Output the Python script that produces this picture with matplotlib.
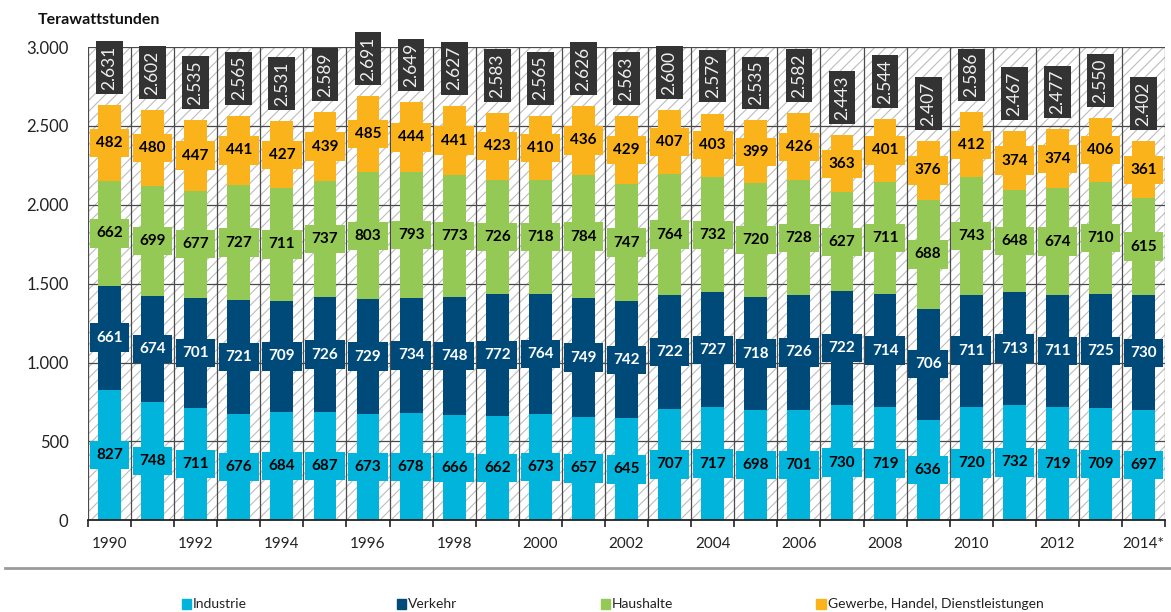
import matplotlib
matplotlib.use('Agg')
from matplotlib import pyplot as plt
from matplotlib.patches import Rectangle
from matplotlib.lines import Line2D
import numpy as np

plt.rcParams['font.family'] = ['Lato', 'DejaVu Sans']
plt.rcParams['hatch.linewidth'] = 0.8

# Endenergieverbrauch nach Sektoren, TWh
years = list(range(1990, 2015))
industrie = [827, 748, 711, 676, 684, 687, 673, 678, 666, 662, 673, 657, 645,
             707, 717, 698, 701, 730, 719, 636, 720, 732, 719, 709, 697]
verkehr = [661, 674, 701, 721, 709, 726, 729, 734, 748, 772, 764, 749, 742,
           722, 727, 718, 726, 722, 714, 706, 711, 713, 711, 725, 730]
haushalte = [662, 699, 677, 727, 711, 737, 803, 793, 773, 726, 718, 784, 747,
             764, 732, 720, 728, 627, 711, 688, 743, 648, 674, 710, 615]
gewerbe = [482, 480, 447, 441, 427, 439, 485, 444, 441, 423, 410, 436, 429,
           407, 403, 399, 426, 363, 401, 376, 412, 374, 374, 406, 361]
totals = [2631, 2602, 2535, 2565, 2531, 2589, 2691, 2649, 2627, 2583, 2565,
          2626, 2563, 2600, 2579, 2535, 2582, 2443, 2544, 2407, 2586, 2467,
          2477, 2550, 2402]

series = [('Industrie', industrie, '#00b4dc', 'black'),
          ('Verkehr', verkehr, '#004a7a', 'white'),
          ('Haushalte', haushalte, '#94c955', 'black'),
          ('Gewerbe, Handel, Dienstleistungen', gewerbe, '#fab31a', 'black')]


def de(v):
    # German thousands separator
    return f'{v:,.0f}'.replace(',', '.')


fig = plt.figure(figsize=(11.71, 6.12), dpi=100)
ax = fig.add_axes([0.0751, 0.150, 0.9199, 0.773])

x = np.arange(len(years))
ymax = 3000

# hatched background per year
ax.bar(x, ymax, width=1.0, color='white', edgecolor='#bcbcbc', hatch='///',
       linewidth=0, zorder=1)
for y in range(500, ymax + 1, 500):
    ax.axhline(y, color='#4a4a4a', lw=0.9, zorder=2)
for b in np.arange(-0.5, len(years), 1.0):
    ax.plot([b, b], [0, ymax], color='#4a4a4a', lw=0.9, zorder=2)

bottom = np.zeros(len(years))
for name, vals, col, tcol in series:
    vals = np.array(vals)
    ax.bar(x, vals, bottom=bottom, width=0.53, color=col, linewidth=0, zorder=3)
    mid = bottom + vals / 2
    # wider label box inside each segment
    ax.bar(x, 180, bottom=mid - 90, width=0.92, color=col, linewidth=0, zorder=4)
    for xi, m, v in zip(x, mid, vals):
        ax.text(xi, m, str(v), ha='center', va='center', fontsize=11,
                fontweight='bold', color=tcol, zorder=5)
    bottom = bottom + vals

# total boxes above the stacks
gap, boxh = 70, 335
ax.bar(x, boxh, bottom=bottom + gap, width=0.62, color='#333333', linewidth=0,
       zorder=4, clip_on=False)
for xi, b, t in zip(x, bottom, totals):
    ax.text(xi, b + gap + boxh / 2, de(t), rotation=90, ha='center', va='center',
            fontsize=12.5, color='#eeeeee', zorder=5, clip_on=False)

ax.set_xlim(-0.5, len(years) - 0.5)
ax.set_ylim(0, ymax)
for s in ['top', 'right', 'left']:
    ax.spines[s].set_visible(False)
ax.spines['bottom'].set_color('#222222')
ax.spines['bottom'].set_linewidth(1.3)
ax.spines['bottom'].set_zorder(6)

ax.set_yticks(range(0, ymax + 1, 500))
ax.set_yticklabels([de(v) for v in range(0, ymax + 1, 500)], fontsize=12,
                   color='#222222')
ax.tick_params(axis='y', length=0, pad=14)

xlabels = [str(y) if (y - 1990) % 2 == 0 else '' for y in years]
xlabels[-1] = '2014*'
ax.set_xticks(x)
ax.set_xticklabels(xlabels, fontsize=11, color='#222222')
ax.tick_params(axis='x', length=0, pad=12)
ax.set_xticks(np.arange(-0.5, len(years), 1.0), minor=True)
ax.tick_params(axis='x', which='minor', length=5, width=1.2, color='#222222',
               direction='out')

fig.text(0.032, 0.968, 'Terawattstunden', fontsize=11.5, fontweight='bold',
         color='#111111', va='center', ha='left')

# separator line above legend
fig.add_artist(Line2D([0.004, 1.0], [0.072, 0.072], color='#9a9a9a', lw=2.0))

legend_x = [0.155, 0.339, 0.513, 0.697]
for (name, vals, col, tcol), lx in zip(series, legend_x):
    fig.add_artist(Rectangle((lx, 0.005), 0.008, 0.016, color=col,
                             transform=fig.transFigure))
    fig.text(lx + 0.0098, 0.013, name, fontsize=10, color='#222222',
             va='center', ha='left')

fig.savefig('out.png', dpi=100)
